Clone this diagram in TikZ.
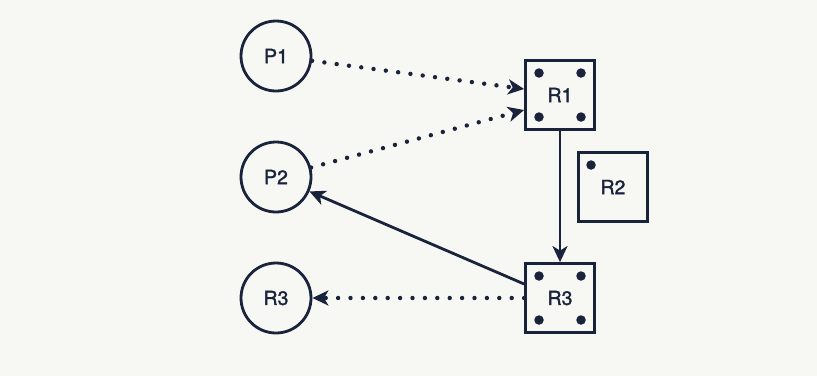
\documentclass[tikz,border=0pt]{standalone}
\usepackage{fontspec}
\setmainfont{TeX Gyre Heros}
\newfontfamily\lblfont[FakeBold=1.6]{TeX Gyre Heros}
\usetikzlibrary{arrows.meta,calc}
\definecolor{ink}{RGB}{26,35,60}
\definecolor{paper}{RGB}{247,247,243}
\tikzset{
  lbl/.style={text=ink,font=\lblfont\fontsize{19.5}{24}\selectfont},
  proc/.style={lbl,circle,draw=ink,line width=2.8pt,minimum size=70pt,inner sep=0pt},
  res/.style={lbl,rectangle,draw=ink,line width=2.8pt,minimum size=69pt,inner sep=0pt},
  tok/.style={circle,fill=ink,inner sep=0pt,minimum size=9.5pt},
  tip/.style={-{Stealth[length=16pt,width=15pt,inset=4.5pt]}},
  solidarrow/.style={tip,draw=ink,line width=2.8pt},
  dotarrow/.style={tip,draw=ink,line width=4.4pt,line cap=round,
    dash pattern=on 0pt off 12.4pt},
}
\begin{document}
\begin{tikzpicture}[x=1pt,y=-1pt]
  \fill[paper] (0,0) rectangle (817,376);
  \useasboundingbox (0,0) rectangle (817,376);

  % processes
  \node[proc] (P1) at (276,56) {P1};
  \node[proc] (P2) at (276,177) {P2};
  \node[proc] (C3) at (276,298) {R3};

  % resources
  \node[res] (R1) at (560,95) {R1};
  \node[res] (R2) at (613,187) {R2};
  \node[res] (R3) at (560,298) {R3};

  % instance tokens
  \foreach \dx/\dy in {-21/-22,21/-22,-21/22,21/22}{
    \node[tok] at ($(R1)+(\dx,\dy)$) {};
    \node[tok] at ($(R3)+(\dx,\dy)$) {};
  }
  \node[tok] at ($(R2)+(-22,-22)$) {};

  % connection points on the resource boxes
  \coordinate (r1a) at ($(R1.west)+(0,-6)$);
  \coordinate (r1b) at ($(R1.west)+(0,15)$);
  \coordinate (r3a) at ($(R3.west)+(0,-14)$);

  % requests and assignments
  \draw[dotarrow] (P1) -- (r1a);
  \draw[dotarrow] (P2) -- (r1b);
  \draw[solidarrow] (R1) -- (R3);
  \draw[solidarrow] (r3a) -- (P2);
  \draw[dotarrow] (R3) -- (C3);
\end{tikzpicture}
\end{document}
